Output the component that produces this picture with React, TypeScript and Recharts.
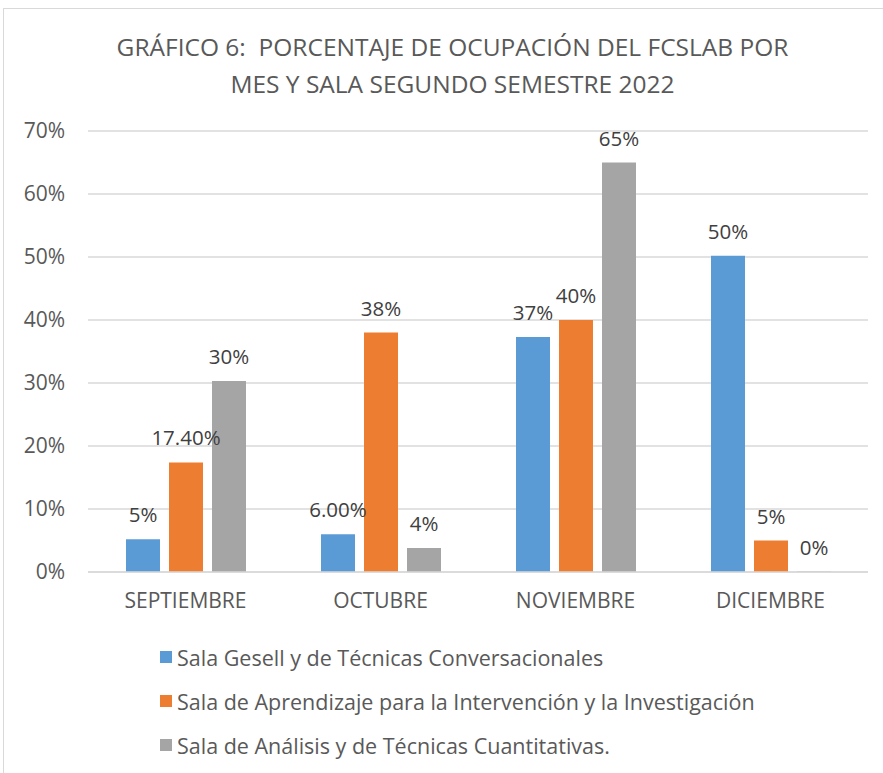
import { Bar, BarChart, CartesianGrid, LabelList, Legend, XAxis, YAxis } from "recharts";

const months = ["SEPTIEMBRE", "OCTUBRE", "NOVIEMBRE", "DICIEMBRE"];
const gesell = [0.052, 0.06, 0.373, 0.502];
const aprendizaje = [0.174, 0.38, 0.4, 0.05];
const analisis = [0.303, 0.038, 0.65, 0];
const gesellLabels = ["5%", "6.00%", "37%", "50%"];
const aprendizajeLabels = ["17.40%", "38%", "40%", "5%"];
const analisisLabels = ["30%", "4%", "65%", "0%"];
const yTicks = [0, 0.1, 0.2, 0.3, 0.4, 0.5, 0.6, 0.7];

const seriesNames = [
  "Sala Gesell y de Técnicas Conversacionales",
  "Sala de Aprendizaje para la Intervención y la Investigación",
  "Sala de Análisis y de Técnicas Cuantitativas.",
];

const data = months.map((m, i) => ({
  month: m,
  gesell: gesell[i],
  aprendizaje: aprendizaje[i],
  analisis: analisis[i],
  gesellLabel: gesellLabels[i],
  aprendizajeLabel: aprendizajeLabels[i],
  analisisLabel: analisisLabels[i],
}));

const FONT = "'Open Sans', sans-serif";
const TEXT = "#595959";
const LABEL = "#404040";

// label above the bar, drawn even when the bar has zero height
function TopLabel(props: any) {
  const { x, y, width, value } = props;
  if (value == null) return null;
  return (
    <text
      x={Number(x) + Number(width) / 2}
      y={Number(y) - 17}
      textAnchor="middle"
      fontSize={20.5}
      fill={LABEL}
      fontFamily={FONT}
    >
      {value}
    </text>
  );
}

function LegendList({ payload }: any) {
  const items = [...(payload || [])].sort(
    (a: any, b: any) => seriesNames.indexOf(a.value) - seriesNames.indexOf(b.value)
  );
  return (
    <div style={{ fontFamily: FONT, fontSize: 21.5, color: TEXT }}>
      {items.map((p: any) => (
        <div key={p.value} style={{ display: "flex", alignItems: "center", height: 44 }}>
          <span style={{ width: 12, height: 12, background: p.color, marginRight: 5, display: "inline-block" }} />
          <span>{p.value}</span>
        </div>
      ))}
    </div>
  );
}

export default function App() {
  return (
    <div style={{ position: "absolute", left: 0, top: 0, width: 883, height: 773, background: "#fff", overflow: "hidden" }}>
      <div
        style={{
          position: "absolute",
          left: 3,
          top: 8,
          width: 920,
          height: 800,
          border: "1px solid #d9d9d9",
          boxSizing: "border-box",
        }}
      />
      <div
        style={{
          position: "absolute",
          left: 0,
          top: 28,
          width: 905,
          textAlign: "center",
          fontFamily: FONT,
          fontSize: 24.5,
          lineHeight: "37px",
          color: TEXT,
        }}
      >
        GRÁFICO 6:&nbsp; PORCENTAJE DE OCUPACIÓN DEL FCSLAB POR
        <br />
        MES Y SALA SEGUNDO SEMESTRE 2022
      </div>
      <BarChart
        width={883}
        height={773}
        data={data}
        margin={{ top: 131, right: 15, left: 0, bottom: 151 }}
        barSize={34}
        barGap={9}
        style={{ position: "absolute", left: 0, top: 0 }}
      >
        <CartesianGrid vertical={false} stroke="#d9d9d9" strokeWidth={1.5} />
        <XAxis
          dataKey="month"
          axisLine={{ stroke: "#d9d9d9", strokeWidth: 1.5 }}
          tickLine={false}
          tickMargin={15}
          height={50}
          tick={{ fontSize: 21, fill: TEXT, fontFamily: FONT }}
        />
        <YAxis
          width={88}
          domain={[0, 0.7]}
          ticks={yTicks}
          axisLine={false}
          tickLine={false}
          tickMargin={17}
          tickFormatter={(v) => `${Math.round(Number(v) * 100)}%`}
          tick={{ fontSize: 21, fill: TEXT, fontFamily: FONT }}
        />
        <Legend
          layout="vertical"
          align="center"
          verticalAlign="middle"
          content={<LegendList />}
          wrapperStyle={{ left: 160, top: 635, width: 720 }}
        />
        <Bar dataKey="gesell" name={seriesNames[0]} fill="#5B9BD5" isAnimationActive={false}>
          <LabelList dataKey="gesellLabel" content={<TopLabel />} />
        </Bar>
        <Bar dataKey="aprendizaje" name={seriesNames[1]} fill="#ED7D31" isAnimationActive={false}>
          <LabelList dataKey="aprendizajeLabel" content={<TopLabel />} />
        </Bar>
        <Bar dataKey="analisis" name={seriesNames[2]} fill="#A5A5A5" minPointSize={0.5} isAnimationActive={false}>
          <LabelList dataKey="analisisLabel" content={<TopLabel />} />
        </Bar>
      </BarChart>
    </div>
  );
}
